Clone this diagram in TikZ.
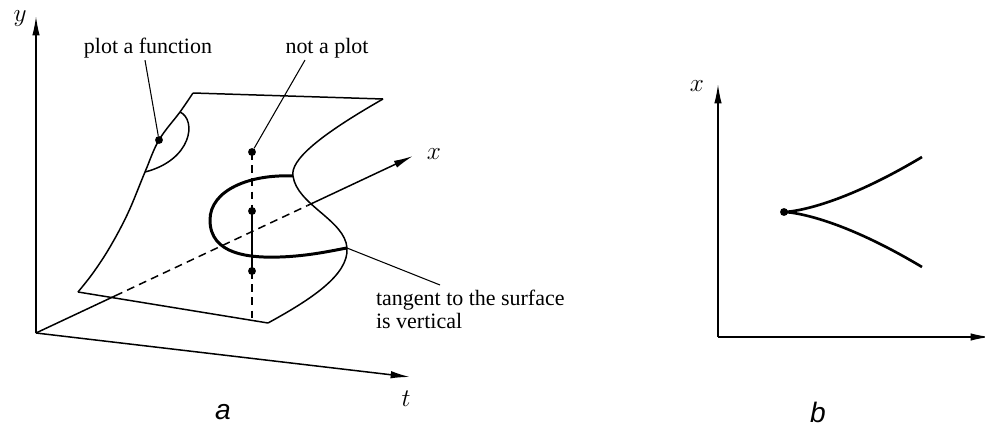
\documentclass[tikz,border=0pt]{standalone}
\usepackage{fontspec}
\setmainfont{Liberation Serif}
\newfontfamily\capfont{Liberation Sans}
\usepackage{tikz}
\usetikzlibrary{arrows.meta, calc}
\tikzstyle{axis} = [line width=0.85pt, -{Latex[length=11pt,width=4.2pt]}]
\tikzstyle{edge} = [line width=0.85pt]
\tikzstyle{fold} = [line width=1.7pt]
\tikzstyle{hidden} = [line width=0.85pt, dash pattern=on 4.5pt off 3pt]
\tikzstyle{dot} = [circle, fill=black, inner sep=0pt, minimum size=4.5pt]
\tikzstyle{lbl} = [font=\fontsize{12.5}{13}\selectfont, inner sep=1pt]
\tikzstyle{var} = [font=\fontsize{15}{15}\selectfont, inner sep=0pt]
\tikzstyle{leader} = [line width=0.6pt]
\tikzstyle{caption} = [font=\capfont\itshape\fontsize{16}{16}\selectfont]

\begin{document}
\begin{tikzpicture}[x=0.02cm, y=-0.02cm]
        \useasboundingbox (0,0) rectangle (985,429);

        % --- (a) axes ---
        \coordinate (O) at (36,333);
        \coordinate (ytip) at (36,16);
        \coordinate (ttip) at (410,377);
        \coordinate (xtip) at (413,156);
        \coordinate (xin) at ($(O)!0.21!(xtip)$);
        \coordinate (xout) at ($(O)!0.72!(xtip)$);
        \draw [axis] (O) -- (ytip);
        \draw [axis] (O) -- (ttip);
        \draw [edge] (O) -- (xin);
        \draw [hidden] (xin) -- (xout);
        \draw [axis] (xout) -- (xtip);
        \node [var] (ylab) at (20,19) {$y$};
        \node [var] (tlab) at (406,399) {$t$};
        \node [var] (xlab) at (434,154) {$x$};

        % --- surface ---
        \coordinate (tl) at (193,93);
        \coordinate (tr) at (383,99);
        \coordinate (bl) at (78,292);
        \coordinate (br) at (268,323);
        \coordinate (top) at (293,176);
        \coordinate (fold) at (347,248);
        \coordinate (arcA) at (180,112);
        \coordinate (pf) at (159,140);
        \coordinate (arcB) at (145,172);
        \draw [edge] (bl) -- (br);
        \draw [edge] (tl) -- (tr);
        \draw [edge] plot[smooth, tension=0.6] coordinates {(tl) (arcA) (pf) (arcB) (128,213) (110,247) (93,273) (bl)};
        \draw [edge] (tr) .. controls (320,135) and (290,160) .. (top) .. controls (297,205) and (345,220) .. (fold) .. controls (349,275) and (310,300) .. (br);
        \draw [edge] (arcA) .. controls (197,120) and (192,160) .. (arcB);

        % fold line
        \draw [fold] (top) .. controls (250,174) and (210,190) .. (210,220) .. controls (210,255) and (250,258) .. (280,257) .. controls (310,256) and (335,250) .. (fold);

        % vertical through the fold
        \coordinate (np) at (252,152);
        \coordinate (m1) at (252,211);
        \coordinate (m2) at (252,271);
        \coordinate (vb) at (252,320);
        \draw [hidden] (np) -- (m1);
        \draw [edge] (m1) -- (m2);
        \draw [hidden] (m2) -- (vb);
        \node [dot] (npd) at (np) {};
        \node [dot] (m1d) at (m1) {};
        \node [dot] (m2d) at (m2) {};
        \node [dot] (pfd) at (pf) {};

        % labels
        \node [lbl] (pfl) at (148,48) {plot a function};
        \node [lbl] (npl) at (327,48) {not a plot};
        \node [lbl, align=left, anchor=north west] (tgl) at (374,288) {tangent to the surface\\is vertical};
        \draw [leader] (pfd) -- ($(pfl.south)+(-3,0)$);
        \draw [leader] (npd) -- ($(npl.south)+(-22,0)$);
        \draw [leader] (fold) -- ($(tgl.north west)+(66,-3)$);

        % --- (b) ---
        \coordinate (O2) at (718,337);
        \coordinate (x2tip) at (718,84);
        \coordinate (t2tip) at (990,337);
        \draw [axis] (O2) -- (x2tip);
        \draw [axis] (O2) -- (t2tip);
        \node [var] (x2lab) at (697,86) {$x$};
        \node [dot] (cusp) at (784,212) {};
        \draw [fold, line width=1.5pt] plot[domain=0:1, samples=40] ({784+138*\x},{212-55*\x*sqrt(\x)});
        \draw [fold, line width=1.5pt] plot[domain=0:1, samples=40] ({784+138*\x},{212+55*\x*sqrt(\x)});

        \node [caption] (capa) at (223,412) {a};
        \node [caption] (capb) at (818,412) {b};
    \end{tikzpicture}
\end{document}
